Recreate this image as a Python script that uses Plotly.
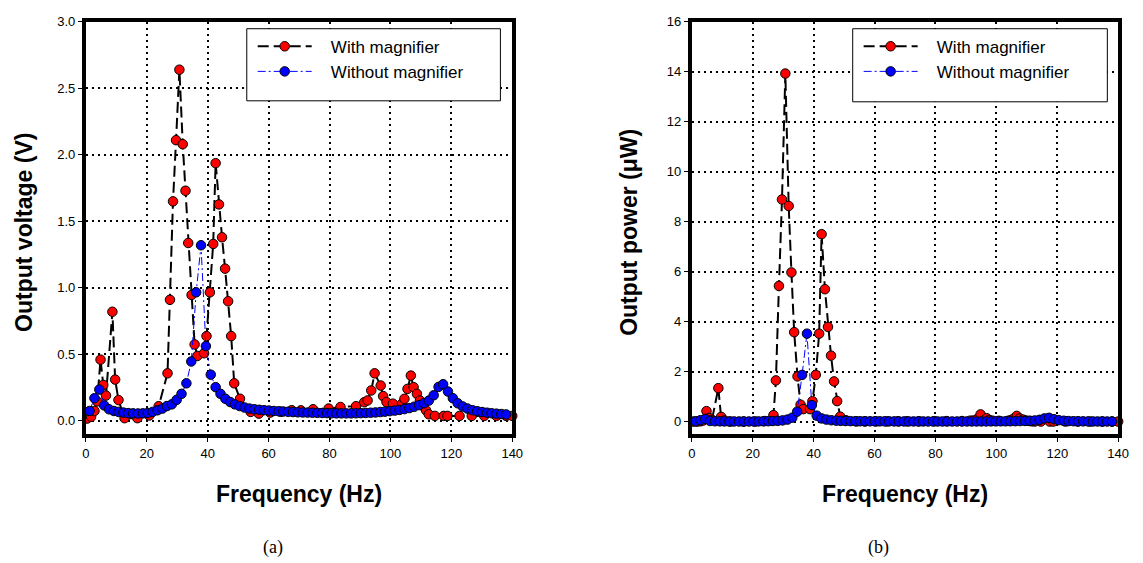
import plotly.graph_objects as go

# ---- data -------------------------------------------------------------
# Frequency sweep with the magnifier (Hz)
freq_with = [0.4, 1.7, 2.8, 3.7, 4.8, 5.7, 6.6, 8.7, 9.6, 10.7, 12.7, 16.9, 20.8, 23.9,
             26.8, 27.6, 28.6, 29.6, 30.7, 31.8, 32.7, 33.6, 34.7, 35.7, 36.6, 38.8, 39.6,
             40.7, 41.8, 42.6, 43.7, 44.7, 45.7, 46.7, 47.7, 48.7, 50.6, 54.1, 56.8, 60.5,
             64.0, 67.6, 70.6, 74.6, 79.7, 83.6, 88.7, 91.4, 92.5, 93.7, 94.8, 96.8, 97.6,
             98.7, 100.8, 103.8, 104.6, 105.6, 106.7, 107.6, 108.7, 109.7, 110.8, 111.7,
             112.6, 114.6, 117.5, 118.7, 122.7, 126.7, 130.8, 134.8, 138.0, 140.0]
# Output voltage with the magnifier (V)
volt_with = [0.017, 0.03, 0.074, 0.146, 0.46, 0.27, 0.19, 0.82, 0.31, 0.156, 0.02, 0.02, 0.04, 0.11,
             0.357, 0.91, 1.65, 2.11, 2.64, 2.08, 1.73, 1.337, 0.946, 0.574, 0.488, 0.508, 0.637,
             0.966, 1.33, 1.937, 1.627, 1.38, 1.144, 0.899, 0.637, 0.282, 0.166, 0.067, 0.054, 0.062,
             0.068, 0.08, 0.079, 0.087, 0.092, 0.104, 0.11, 0.14, 0.153, 0.228, 0.357, 0.265, 0.186,
             0.141, 0.129, 0.129, 0.166, 0.24, 0.34, 0.253, 0.203, 0.153, 0.111, 0.079,
             0.049, 0.037, 0.037, 0.037, 0.037, 0.037, 0.037, 0.037, 0.037, 0.037]
# Output power with the magnifier (uW)
power_with = [0.0, 0.002, 0.011, 0.043, 0.42, 0.146, 0.072, 1.34, 0.19, 0.049, 0.001, 0.001, 0.003, 0.024,
              0.26, 1.65, 5.43, 8.89, 13.93, 8.63, 5.97, 3.58, 1.81, 0.68, 0.5, 0.5, 0.82,
              1.87, 3.52, 7.5, 5.3, 3.79, 2.64, 1.61, 0.82, 0.2, 0.055, 0.009, 0.006, 0.008,
              0.009, 0.013, 0.012, 0.015, 0.017, 0.022, 0.024, 0.039, 0.047, 0.104, 0.29, 0.14, 0.069,
              0.04, 0.033, 0.033, 0.055, 0.115, 0.23, 0.128, 0.082, 0.047, 0.025, 0.012,
              0.005, 0.003, 0.003, 0.003, 0.003, 0.003, 0.003, 0.003, 0.003, 0.003]

# Frequency sweep without the magnifier (Hz)
freq_without = [1.2, 2.8, 4.4, 6.0, 7.6, 9.2, 10.7, 12.3, 13.9, 15.5, 17.1, 18.7, 20.3, 21.9,
                23.5, 25.1, 26.6, 28.2, 29.8, 31.4, 33.0, 34.6, 36.2, 37.8, 39.4, 41.0, 42.6,
                44.2, 45.8, 47.4, 48.9, 50.5, 52.1, 53.7, 55.3, 56.9, 58.5, 60.1, 61.7, 63.3,
                64.8, 66.4, 68.0, 69.6, 71.2, 72.8, 74.4, 76.0, 77.6, 79.2, 80.7, 82.3, 83.9,
                85.5, 87.1, 88.7, 90.3, 91.9, 93.5, 95.1, 96.7, 98.2, 99.8, 101.4, 103.0, 104.6,
                106.2, 107.8, 109.4, 111.0, 112.6, 114.2, 115.8, 117.3, 118.9, 120.5, 122.1,
                123.7, 125.3, 126.9, 128.5, 130.1, 131.7, 133.2, 134.8, 136.4, 138.0]
# Output voltage without the magnifier (V)
volt_without = [0.074, 0.17, 0.235, 0.116, 0.087, 0.074, 0.067, 0.062, 0.058, 0.056, 0.055, 0.056, 0.059, 0.067,
                0.079, 0.092, 0.111, 0.124, 0.158, 0.203, 0.282, 0.446, 0.966, 1.32, 0.562, 0.347, 0.253,
                0.203, 0.166, 0.141, 0.124, 0.111, 0.100, 0.092, 0.087, 0.083, 0.080, 0.077, 0.074, 0.072,
                0.070, 0.068, 0.066, 0.064, 0.063, 0.062, 0.061, 0.060, 0.059, 0.058, 0.057, 0.056, 0.056,
                0.056, 0.056, 0.057, 0.058, 0.059, 0.061, 0.063, 0.066, 0.069, 0.073, 0.077, 0.082, 0.088,
                0.096, 0.106, 0.118, 0.132, 0.152, 0.192, 0.255, 0.275, 0.220, 0.170, 0.132,
                0.108, 0.092, 0.080, 0.072, 0.066, 0.061, 0.057, 0.054, 0.051, 0.048]
# Output power without the magnifier (uW)
power_without = [0.011, 0.058, 0.11, 0.027, 0.015, 0.011, 0.009, 0.008, 0.007, 0.006, 0.006, 0.006, 0.007, 0.009,
                 0.012, 0.017, 0.025, 0.031, 0.05, 0.082, 0.159, 0.40, 1.87, 3.52, 0.66, 0.24, 0.128,
                 0.082, 0.055, 0.04, 0.031, 0.025, 0.02, 0.017, 0.015, 0.014, 0.013, 0.012, 0.011, 0.01,
                 0.01, 0.009, 0.009, 0.008, 0.008, 0.008, 0.007, 0.007, 0.007, 0.007, 0.006, 0.006, 0.006,
                 0.006, 0.006, 0.006, 0.007, 0.007, 0.007, 0.008, 0.009, 0.01, 0.011, 0.012, 0.013, 0.015,
                 0.018, 0.022, 0.028, 0.035, 0.046, 0.074, 0.13, 0.151, 0.097, 0.058, 0.035,
                 0.023, 0.017, 0.013, 0.01, 0.009, 0.007, 0.006, 0.006, 0.005, 0.005]

series_names = ["With magnifier", "Without magnifier"]
x_ticks = [0, 20, 40, 60, 80, 100, 120, 140]
volt_ticks = [0.0, 0.5, 1.0, 1.5, 2.0, 2.5, 3.0]
power_ticks = [0, 2, 4, 6, 8, 10, 12, 14, 16]

# ---- layout geometry (pixels) ------------------------------------------
W, H = 1143, 563
def px(x):
    return x / W
def py(y):
    return 1 - y / H

FONT = "Liberation Sans, Arial, sans-serif"
PAD = "\u00a0\u00a0\u00a0"

fig = go.Figure()

red_marker = dict(symbol="circle", size=9.5, color="#ff0000", line=dict(color="black", width=1))
blue_marker = dict(symbol="circle", size=9.5, color="#0000ff", line=dict(color="black", width=1))
red_line = dict(color="black", width=2, dash="11px,5px")
blue_line = dict(color="#0000ff", width=1, dash="8px,3px,2px,3px")

for xa, ya, lg, y_with, y_without in [("x", "y", "legend", volt_with, volt_without),
                                      ("x2", "y2", "legend2", power_with, power_without)]:
    fig.add_trace(go.Scatter(x=freq_with, y=y_with, mode="lines+markers", name=PAD + series_names[0],
                             marker=red_marker, line=red_line, xaxis=xa, yaxis=ya, legend=lg,
                             cliponaxis=False))
    fig.add_trace(go.Scatter(x=freq_without, y=y_without, mode="lines+markers", name=PAD + series_names[1],
                             marker=blue_marker, line=blue_line, xaxis=xa, yaxis=ya, legend=lg,
                             cliponaxis=False))

axis_common = dict(
    showline=True, linecolor="black", linewidth=4, mirror=True,
    ticks="outside", ticklen=4, tickwidth=1, tickcolor="black",
    showgrid=True, gridcolor="black", gridwidth=2, griddash="2px,4px",
    zeroline=False, tickfont=dict(family=FONT, size=13, color="black"),
)

y_dom = [py(432.5), py(15)]
fig.update_layout(
    width=W, height=H, margin=dict(l=0, r=0, t=0, b=0),
    paper_bgcolor="white", plot_bgcolor="white",
    xaxis=dict(domain=[px(83), px(515)], range=[0, 140], tickvals=x_ticks, anchor="y", **axis_common),
    yaxis=dict(domain=y_dom, range=[-0.1, 3.0], tickvals=volt_ticks, tickformat=".1f", anchor="x", **axis_common),
    xaxis2=dict(domain=[px(697), px(1129)], range=[0, 140], tickvals=x_ticks, anchor="y2", **axis_common),
    yaxis2=dict(domain=y_dom, range=[-0.5, 16], tickvals=power_ticks, anchor="x2", **axis_common),
    legend=dict(x=px(252), y=py(22), xanchor="left", yanchor="top", bgcolor="rgba(0,0,0,0)",
                borderwidth=0, itemwidth=54, tracegroupgap=0,
                font=dict(family=FONT, size=17, color="black")),
    legend2=dict(x=px(866), y=py(22), xanchor="left", yanchor="top", bgcolor="rgba(0,0,0,0)",
                 borderwidth=0, itemwidth=54, tracegroupgap=0,
                 font=dict(family=FONT, size=17, color="black")),
    showlegend=True,
)

# legend frames
for x0, x1, y0, y1 in [(246, 503, 22, 95), (860, 1118, 22, 96)]:
    fig.add_shape(type="rect", xref="paper", yref="paper", x0=px(x0), x1=px(x1), y0=py(y1), y1=py(y0),
                  line=dict(color="black", width=1), fillcolor="white", layer="above")

title_font = dict(family=FONT, size=23, color="black")
caption_font = dict(family="Liberation Serif, Times New Roman, serif", size=18, color="black")
annotations = [
    dict(text="<b>Output voltage (V)</b>", x=px(20), y=py(228), textangle=-90, font=title_font),
    dict(text="<b>Output power (\u03bcW)</b>", x=px(633), y=py(228), textangle=-90, font=title_font),
    dict(text="<b>Frequency (Hz)</b>", x=px(299), y=py(493), font=title_font),
    dict(text="<b>Frequency (Hz)</b>", x=px(913), y=py(493), font=title_font),
    dict(text="(a)", x=px(273), y=py(547), font=caption_font),
    dict(text="(b)", x=px(886), y=py(547), font=caption_font),
]
for a in annotations:
    fig.add_annotation(xref="paper", yref="paper", xanchor="center", yanchor="middle", showarrow=False, **a)

fig.write_html("out.html")
